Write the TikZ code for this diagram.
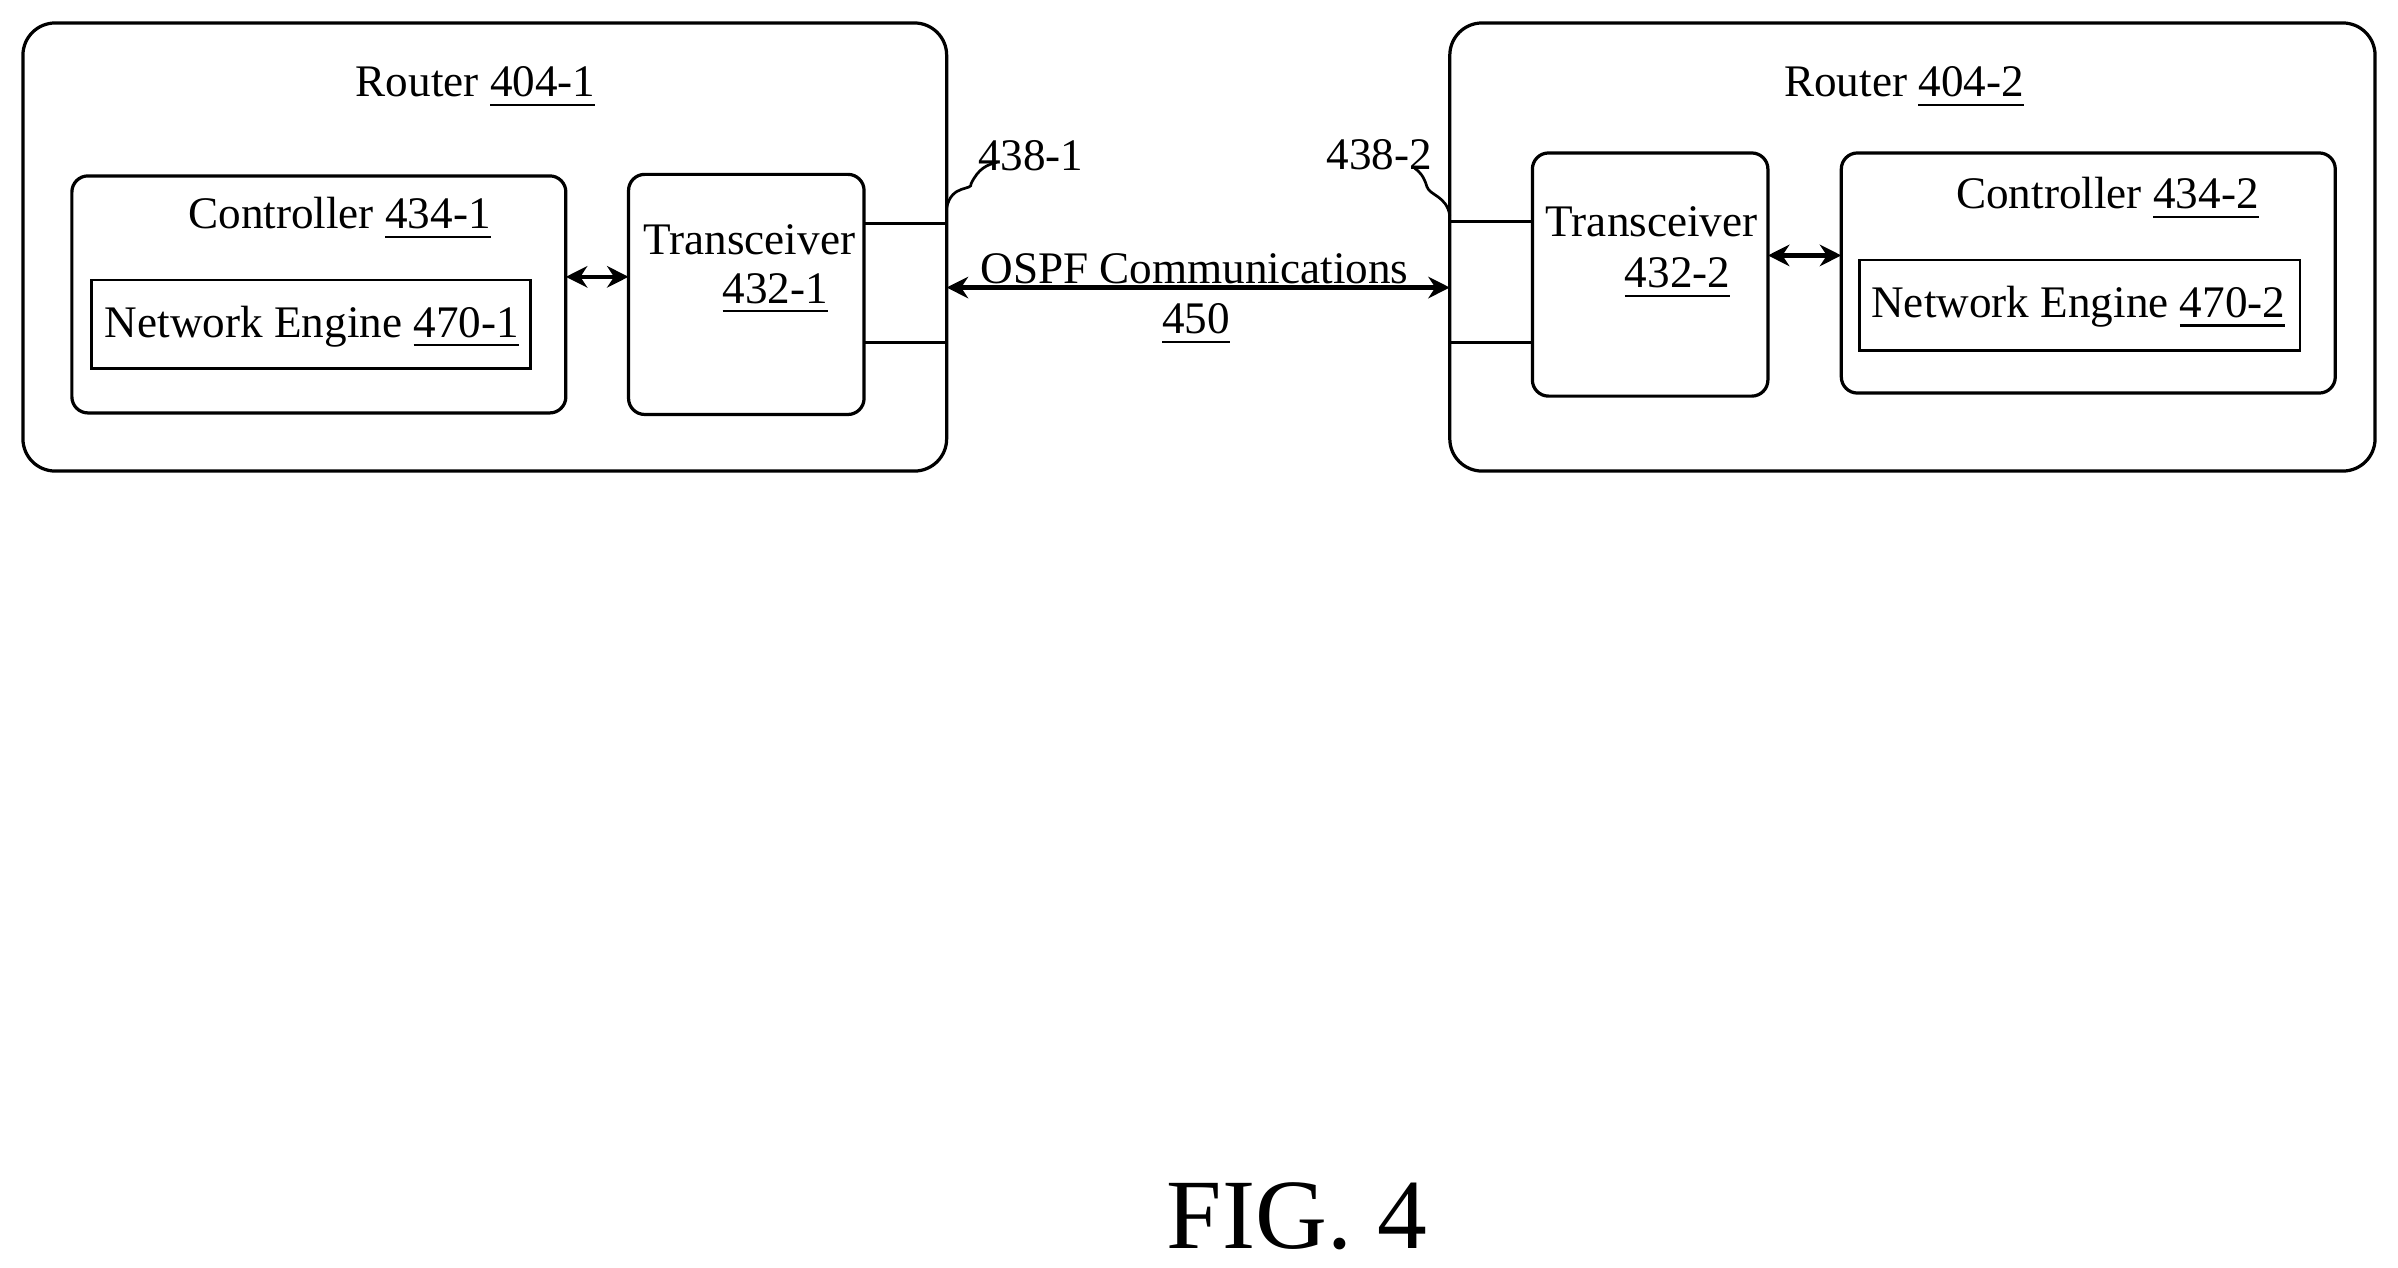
\documentclass[tikz,border=0pt]{standalone}
\usepackage{fontspec}
\setmainfont{Liberation Serif}
\usetikzlibrary{arrows.meta}
\begin{document}
\begin{tikzpicture}[x=0.01cm,y=-0.01cm,
  box/.style={draw,line width=0.6pt,rounded corners=3pt},
  lbl/.style={font=\fontsize{8.4}{10}\selectfont,inner sep=0pt},
  dbl/.style={{Stealth[length=4pt,width=4pt]}-{Stealth[length=4pt,width=4pt]},line width=0.8pt},
  ln/.style={line width=0.5pt}]
\useasboundingbox (0,0) rectangle (1568,829);
% routers
\draw[box,rounded corners=6pt] (15,15) rectangle (619,308);
\draw[box,rounded corners=6pt] (948,15) rectangle (1553,308);
\node[lbl] (r1) at (311,57) {Router \underline{404-1}};
\node[lbl] (r2) at (1245,57) {Router \underline{404-2}};
% router 1 contents
\draw[box] (47,115) rectangle (370,270);
\node[lbl] (c1) at (222,143) {Controller \underline{434-1}};
\draw[ln] (60,183) rectangle (347,241);
\node[lbl] (ne1) at (204,214) {Network Engine \underline{470-1}};
\draw[box] (411,114) rectangle (565,271);
\node[lbl] (t1) at (490,157) {Transceiver};
\node[lbl] (t1n) at (507,192) {\underline{432-1}};
\coordinate (p1a) at (565,146); \coordinate (q1a) at (619,146);
\coordinate (p1b) at (565,224); \coordinate (q1b) at (619,224);
\draw[ln] (p1a) -- (q1a); \draw[ln] (p1b) -- (q1b);
\coordinate (a1) at (370,181); \coordinate (b1) at (411,181);
\draw[dbl] (a1) -- (b1);
% router 2 contents
\draw[box] (1002,100) rectangle (1156,259);
\node[lbl] (t2) at (1080,145) {Transceiver};
\node[lbl] (t2n) at (1097,182) {\underline{432-2}};
\draw[box] (1204,100) rectangle (1527,257);
\node[lbl] (c2) at (1378,130) {Controller \underline{434-2}};
\draw[ln] (1216,170) rectangle (1504,229);
\node[lbl] (ne2) at (1359,201) {Network Engine \underline{470-2}};
\coordinate (p2a) at (948,145); \coordinate (q2a) at (1002,145);
\coordinate (p2b) at (948,224); \coordinate (q2b) at (1002,224);
\draw[ln] (p2a) -- (q2a); \draw[ln] (p2b) -- (q2b);
\coordinate (a2) at (1156,167); \coordinate (b2) at (1204,167);
\draw[dbl] (a2) -- (b2);
% OSPF
\coordinate (o1) at (619,188); \coordinate (o2) at (948,188);
\draw[dbl] (o1) -- (o2);
\node[lbl] (os) at (781,176) {OSPF Communications};
\node[lbl] (os2) at (782,212) {\underline{450}};
% port labels
\node[lbl] (l1) at (674,102) {438-1};
\node[lbl] (l2) at (902,101) {438-2};
\coordinate (c1a) at (619,136); \coordinate (c1b) at (652,106);
\draw[ln] (c1a) .. controls (622,120) and (636,125) .. (635,120) .. controls (640,110) and (645,108) .. (c1b);
\coordinate (c2a) at (948,141); \coordinate (c2b) at (925,110);
\draw[ln] (c2a) .. controls (946,128) and (935,128) .. (933,122) .. controls (931,115) and (928,112) .. (c2b);
\node[font=\fontsize{18.5}{22}\selectfont,inner sep=0pt] (fig) at (848,795) {FIG. 4};
\end{tikzpicture}
\end{document}
